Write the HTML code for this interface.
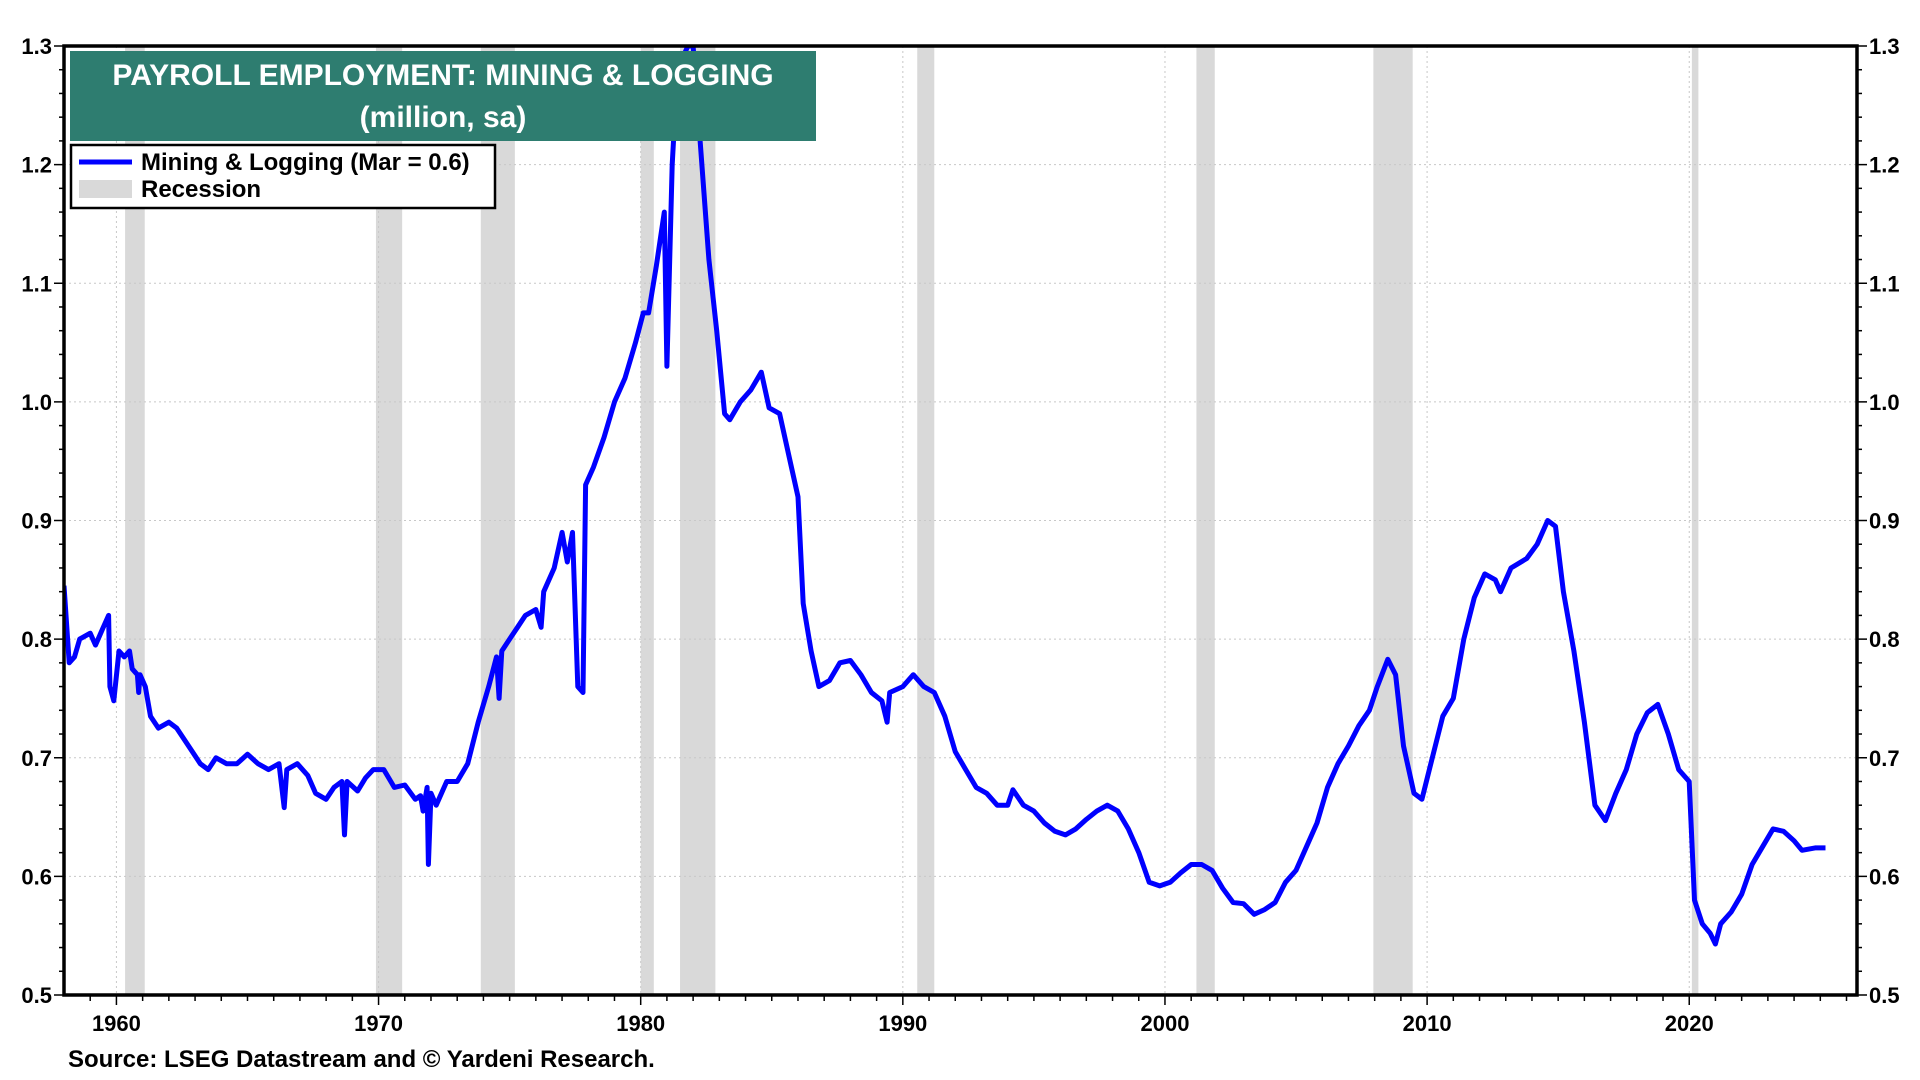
<!DOCTYPE html>
<html><head><meta charset="utf-8"><style>
body{margin:0;background:#fff;width:1920px;height:1080px;overflow:hidden;font-family:"Liberation Sans",Arial,sans-serif}
svg{position:absolute;left:0;top:0}
</style></head><body>
<svg id="chart" width="1920" height="1080"></svg>
<script>
const yTicks=[0.5,0.6,0.7,0.8,0.9,1.0,1.1,1.2,1.3];
const yTickLabels=["0.5","0.6","0.7","0.8","0.9","1.0","1.1","1.2","1.3"];
const xTicks=[1960,1970,1980,1990,2000,2010,2020];
const xTickLabels=["1960","1970","1980","1990","2000","2010","2020"];
const recessions=[[1960.33,1961.08],[1969.9,1970.9],[1973.9,1975.2],[1980.0,1980.5],[1981.5,1982.85],[1990.55,1991.2],[2001.2,2001.9],[2007.95,2009.45],[2020.1,2020.35]];
const years=[1958.0,1958.2,1958.4,1958.6,1959.0,1959.2,1959.5,1959.7,1959.75,1959.9,1960.1,1960.3,1960.5,1960.6,1960.8,1960.85,1960.9,1961.1,1961.3,1961.6,1962.0,1962.3,1962.6,1962.9,1963.2,1963.5,1963.8,1964.2,1964.6,1965.0,1965.4,1965.8,1966.2,1966.4,1966.5,1966.9,1967.3,1967.6,1968.0,1968.3,1968.6,1968.7,1968.8,1969.2,1969.5,1969.8,1970.2,1970.6,1971.0,1971.4,1971.6,1971.7,1971.85,1971.9,1972.0,1972.2,1972.6,1973.0,1973.4,1973.8,1974.2,1974.5,1974.6,1974.7,1975.0,1975.3,1975.6,1976.0,1976.2,1976.3,1976.7,1977.0,1977.2,1977.4,1977.6,1977.8,1977.9,1978.2,1978.6,1979.0,1979.4,1979.8,1980.1,1980.3,1980.6,1980.9,1981.0,1981.2,1981.4,1981.8,1982.0,1982.3,1982.6,1982.9,1983.2,1983.4,1983.8,1984.2,1984.6,1984.9,1985.3,1985.7,1986.0,1986.2,1986.5,1986.8,1987.2,1987.6,1988.0,1988.4,1988.8,1989.2,1989.4,1989.5,1990.0,1990.4,1990.8,1991.2,1991.6,1992.0,1992.4,1992.8,1993.2,1993.6,1994.0,1994.2,1994.6,1995.0,1995.4,1995.8,1996.2,1996.6,1997.0,1997.4,1997.8,1998.2,1998.6,1999.0,1999.4,1999.8,2000.2,2000.6,2001.0,2001.4,2001.8,2002.2,2002.6,2003.0,2003.4,2003.8,2004.2,2004.6,2005.0,2005.4,2005.8,2006.2,2006.6,2007.0,2007.4,2007.8,2008.1,2008.5,2008.8,2009.1,2009.5,2009.8,2010.2,2010.6,2011.0,2011.4,2011.8,2012.2,2012.6,2012.8,2013.2,2013.8,2014.2,2014.6,2014.9,2015.2,2015.6,2016.0,2016.4,2016.8,2017.2,2017.6,2018.0,2018.4,2018.8,2019.2,2019.6,2020.0,2020.2,2020.5,2020.8,2021.0,2021.2,2021.6,2022.0,2022.4,2022.8,2023.2,2023.6,2024.0,2024.3,2024.8,2025.2];
const values=[0.845,0.78,0.785,0.80,0.805,0.795,0.81,0.82,0.76,0.748,0.79,0.785,0.79,0.775,0.77,0.755,0.77,0.76,0.735,0.725,0.73,0.725,0.715,0.705,0.695,0.69,0.70,0.695,0.695,0.703,0.695,0.69,0.695,0.658,0.69,0.695,0.685,0.67,0.665,0.675,0.68,0.635,0.68,0.672,0.683,0.69,0.69,0.675,0.677,0.665,0.668,0.655,0.675,0.61,0.67,0.66,0.68,0.68,0.695,0.73,0.76,0.785,0.75,0.79,0.80,0.81,0.82,0.825,0.81,0.84,0.86,0.89,0.865,0.89,0.76,0.755,0.93,0.945,0.97,1.00,1.02,1.05,1.075,1.075,1.115,1.16,1.03,1.2,1.28,1.30,1.30,1.21,1.12,1.06,0.99,0.985,1.00,1.01,1.025,0.995,0.99,0.95,0.92,0.83,0.79,0.76,0.765,0.78,0.782,0.77,0.755,0.748,0.73,0.755,0.76,0.77,0.76,0.755,0.735,0.705,0.69,0.675,0.67,0.66,0.66,0.673,0.66,0.655,0.645,0.638,0.635,0.64,0.648,0.655,0.66,0.655,0.64,0.62,0.595,0.592,0.595,0.603,0.61,0.61,0.605,0.59,0.578,0.577,0.568,0.572,0.578,0.595,0.605,0.625,0.645,0.675,0.695,0.71,0.727,0.74,0.76,0.783,0.77,0.71,0.67,0.665,0.70,0.735,0.75,0.80,0.835,0.855,0.85,0.84,0.86,0.868,0.88,0.90,0.895,0.84,0.79,0.73,0.66,0.647,0.67,0.69,0.72,0.738,0.745,0.72,0.69,0.68,0.58,0.56,0.552,0.543,0.56,0.57,0.585,0.61,0.625,0.64,0.638,0.63,0.622,0.624,0.624];

const L=64,R=1857,T=46,B=995,X0=1958.0,X1=2026.4,Y0=0.5,Y1=1.3;
const xs=v=>L+(v-X0)/(X1-X0)*(R-L);
const ys=v=>B-(v-Y0)/(Y1-Y0)*(B-T);
const NS="http://www.w3.org/2000/svg";
const svg=document.getElementById('chart');
function mk(tag,attrs,parent){const e=document.createElementNS(NS,tag);for(const k in attrs)e.setAttribute(k,attrs[k]);(parent||svg).appendChild(e);return e;}

const defs=mk('defs',{});
const cp=mk('clipPath',{id:'pc'},defs);mk('rect',{x:L,y:T,width:R-L,height:B-T},cp);

recessions.forEach(r=>{
  const e=mk('rect',{x:xs(r[0]),y:T,width:xs(r[1])-xs(r[0]),height:B-T,fill:'#d9d9d9'});
  
  
});
yTicks.forEach((t,i)=>{
  if(i>0&&i<yTicks.length-1){const g=mk('line',{x1:L,x2:R,y1:ys(t),y2:ys(t),stroke:'#c8c8c8','stroke-dasharray':'2,3','stroke-width':1});
  }
});
xTicks.forEach(t=>{const g=mk('line',{x1:xs(t),x2:xs(t),y1:T,y2:B,stroke:'#c8c8c8','stroke-dasharray':'2,3','stroke-width':1});
  });

let d='';years.forEach((y,i)=>{d+=(i?'L':'M')+xs(y).toFixed(1)+','+ys(values[i]).toFixed(1);});
const line=mk('path',{d:d,fill:'none',stroke:'#0000ff','stroke-width':5,'stroke-linejoin':'round','clip-path':'url(#pc)'});



const fr=mk('rect',{x:L,y:T,width:R-L,height:B-T,fill:'none',stroke:'#000','stroke-width':3.5});

for(let v=0.5;v<=1.3001;v+=0.02){
  const big=Math.abs(v*10-Math.round(v*10))<0.01;
  mk('line',{x1:L-(big?10:5),x2:L,y1:ys(v),y2:ys(v),stroke:'#000','stroke-width':1.5});
  mk('line',{x1:R,x2:R+(big?10:5),y1:ys(v),y2:ys(v),stroke:'#000','stroke-width':1.5});
}
for(let yr=1959;yr<=2026;yr++){
  mk('line',{x1:xs(yr),x2:xs(yr),y1:B,y2:B+(yr%10==0?10:6),stroke:'#000','stroke-width':1.5});
}
yTicks.forEach((t,i)=>{
  const a=mk('text',{x:L-12,y:ys(t)+8,'text-anchor':'end','font-size':22,'font-weight':'bold',fill:'#000'});a.textContent=yTickLabels[i];
  
  const b=mk('text',{x:R+12,y:ys(t)+8,'text-anchor':'start','font-size':22,'font-weight':'bold',fill:'#000'});b.textContent=yTickLabels[i];
  
});
xTicks.forEach((t,i)=>{
  const a=mk('text',{x:xs(t),y:B+36,'text-anchor':'middle','font-size':22,'font-weight':'bold',fill:'#000'});a.textContent=xTickLabels[i];
  
});
</script>
<svg width="1920" height="1080" style="pointer-events:none">
<g>
<rect x="70" y="51" width="746" height="90" fill="#2e7d70"/>
<text x="443" y="85" text-anchor="middle" font-size="30" font-weight="bold" fill="#fff" font-family="Liberation Sans, sans-serif">PAYROLL EMPLOYMENT: MINING &amp; LOGGING</text>
<text x="443" y="127" text-anchor="middle" font-size="30" font-weight="bold" fill="#fff" font-family="Liberation Sans, sans-serif">(million, sa)</text>
</g>
<g>
<rect x="71" y="145" width="424" height="63" fill="#fff" stroke="#000" stroke-width="2.5"/>
<line x1="79" y1="162" x2="132" y2="162" stroke="#0000ff" stroke-width="5"/>
<text x="141" y="170" font-size="24" font-weight="bold" fill="#000" font-family="Liberation Sans, sans-serif">Mining &amp; Logging (Mar = 0.6)</text>
<rect x="79" y="180" width="53" height="18" fill="#d9d9d9"/>
<text x="141" y="197" font-size="24" font-weight="bold" fill="#000" font-family="Liberation Sans, sans-serif">Recession</text>
</g>
<text x="68" y="1067" font-size="24" font-weight="bold" fill="#000" font-family="Liberation Sans, sans-serif">Source: LSEG Datastream and © Yardeni Research.</text>
</svg>
</body></html>
